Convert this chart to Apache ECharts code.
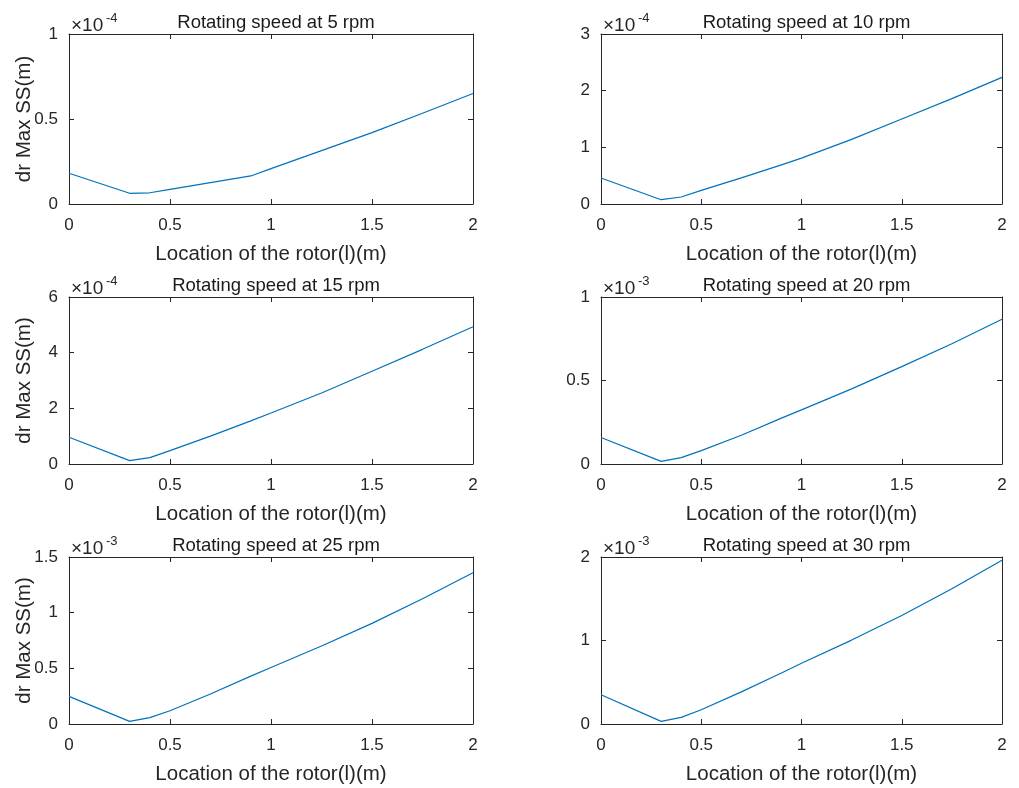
<!DOCTYPE html>
<html>
<head>
<meta charset="utf-8">
<title>dr Max SS vs rotor location</title>
<script src="https://cdn.jsdelivr.net/npm/echarts@6/dist/echarts.min.js"></script>
<style>
  html, body { margin: 0; padding: 0; background: #ffffff; }
  #chart { width: 1019px; height: 788px; }
</style>
</head>
<body>
<div id="chart"></div>
<script>
// Rotor location along the shaft (m)
const locations = [0, 0.3, 0.4, 0.5, 0.7, 0.9, 1.0, 1.25, 1.5, 1.75, 2.0];

// Rotating speeds (rpm), one subplot each
const speeds = [5, 10, 15, 20, 25, 30];

// dr Max SS at each location, in units of 10^exponent m
const drMax5  = [0.181, 0.063, 0.066, 0.086, 0.126, 0.165, 0.208, 0.314, 0.420, 0.534, 0.650];
const drMax10 = [0.459, 0.076, 0.124, 0.240, 0.460, 0.690, 0.810, 1.140, 1.500, 1.860, 2.235];
const drMax15 = [0.960, 0.120, 0.230, 0.480, 1.000, 1.550, 1.830, 2.550, 3.330, 4.120, 4.930];
const drMax20 = [0.159, 0.016, 0.038, 0.080, 0.172, 0.275, 0.324, 0.450, 0.583, 0.720, 0.867];
const drMax25 = [0.248, 0.024, 0.057, 0.119, 0.270, 0.430, 0.507, 0.700, 0.904, 1.125, 1.358];
const drMax30 = [0.350, 0.032, 0.080, 0.171, 0.385, 0.610, 0.728, 1.005, 1.300, 1.620, 1.960];
const seriesValues = [drMax5, drMax10, drMax15, drMax20, drMax25, drMax30];

// Axis scaling per subplot
const exponents = [-4, -4, -4, -3, -3, -3];
const yMax  = [1, 3, 6, 1, 1.5, 2];
const yStep = [0.5, 1, 2, 0.5, 0.5, 1];
const xMin = 0, xMax = 2, xStep = 0.5;

const xLabel = 'Location of the rotor(l)(m)';
const yLabel = 'dr Max SS(m)';

// Subplot frames (3 rows x 2 columns)
const colLeft  = [69, 601];
const colWidth = [404, 401];
const rowTop    = [34, 297, 557];
const rowHeight = [170, 167, 167];

const FONT = '"Liberation Sans", Arial, Helvetica, sans-serif';
const AXIS_COLOR = '#262626';
const LINE_COLOR = '#0072BD';

const chart = echarts.init(document.getElementById('chart'), null, { renderer: 'canvas' });

const grids = [], xAxes = [], yAxes = [], series = [], titles = [], graphics = [];

speeds.forEach((rpm, i) => {
  const row = Math.floor(i / 2), col = i % 2;
  const left = colLeft[col], top = rowTop[row];
  const width = colWidth[col], height = rowHeight[row];

  grids.push({ left, top, width, height, containLabel: false, show: false });

  const lineStyle = { color: AXIS_COLOR, width: 1 };
  const tick = { show: true, inside: true, length: 5, lineStyle };

  // bottom x axis with labels
  xAxes.push({
    type: 'value', gridIndex: i, position: 'bottom',
    min: xMin, max: xMax, interval: xStep,
    axisLine: { show: true, onZero: false, lineStyle },
    axisTick: tick,
    axisLabel: { show: true, margin: 13, fontSize: 17, color: AXIS_COLOR, fontFamily: FONT },
    splitLine: { show: false },
    name: xLabel, nameLocation: 'middle', nameGap: 40,
    nameTextStyle: { fontSize: 20.5, color: AXIS_COLOR, fontFamily: FONT }
  });
  // top x axis (box edge with mirrored ticks)
  xAxes.push({
    type: 'value', gridIndex: i, position: 'top',
    min: xMin, max: xMax, interval: xStep,
    axisLine: { show: true, onZero: false, lineStyle },
    axisTick: tick,
    axisLabel: { show: false },
    splitLine: { show: false }
  });

  // left y axis with labels
  const yLeft = {
    type: 'value', gridIndex: i, position: 'left',
    min: 0, max: yMax[i], interval: yStep[i],
    axisLine: { show: true, onZero: false, lineStyle },
    axisTick: tick,
    axisLabel: { show: true, margin: 11, fontSize: 17, color: AXIS_COLOR, fontFamily: FONT },
    splitLine: { show: false }
  };
  if (col === 0) {
    yLeft.name = yLabel;
    yLeft.nameLocation = 'middle';
    yLeft.nameGap = 34;
    yLeft.nameMoveOverlap = false;
    yLeft.nameTextStyle = { fontSize: 20.5, color: AXIS_COLOR, fontFamily: FONT };
  }
  yAxes.push(yLeft);
  // right y axis (box edge with mirrored ticks)
  yAxes.push({
    type: 'value', gridIndex: i, position: 'right',
    min: 0, max: yMax[i], interval: yStep[i],
    axisLine: { show: true, onZero: false, lineStyle },
    axisTick: tick,
    axisLabel: { show: false },
    splitLine: { show: false }
  });

  series.push({
    type: 'line', xAxisIndex: 2 * i, yAxisIndex: 2 * i,
    data: locations.map((x, k) => [x, seriesValues[i][k]]),
    showSymbol: false, smooth: false, clip: true,
    lineStyle: { color: LINE_COLOR, width: 1.2 },
    animation: false
  });

  titles.push({
    text: 'Rotating speed at ' + rpm + ' rpm',
    left: left + width / 2, textAlign: 'center',
    top: top - 26,
    textStyle: { fontSize: 18.5, fontWeight: 'normal', color: '#1a1a1a', fontFamily: FONT }
  });

  // axis multiplier "×10^n" above the top-left corner
  graphics.push({
    type: 'text', left: left + 2, top: top - 18,
    style: { text: '\u00d710', font: '19px ' + FONT, fill: AXIS_COLOR }
  });
  graphics.push({
    type: 'text', left: left + 37, top: top - 22,
    style: { text: String(exponents[i]), font: '13px ' + FONT, fill: AXIS_COLOR }
  });
});

chart.setOption({
  backgroundColor: '#ffffff',
  animation: false,
  title: titles,
  grid: grids,
  xAxis: xAxes,
  yAxis: yAxes,
  series: series,
  graphic: graphics
});
</script>
</body>
</html>
